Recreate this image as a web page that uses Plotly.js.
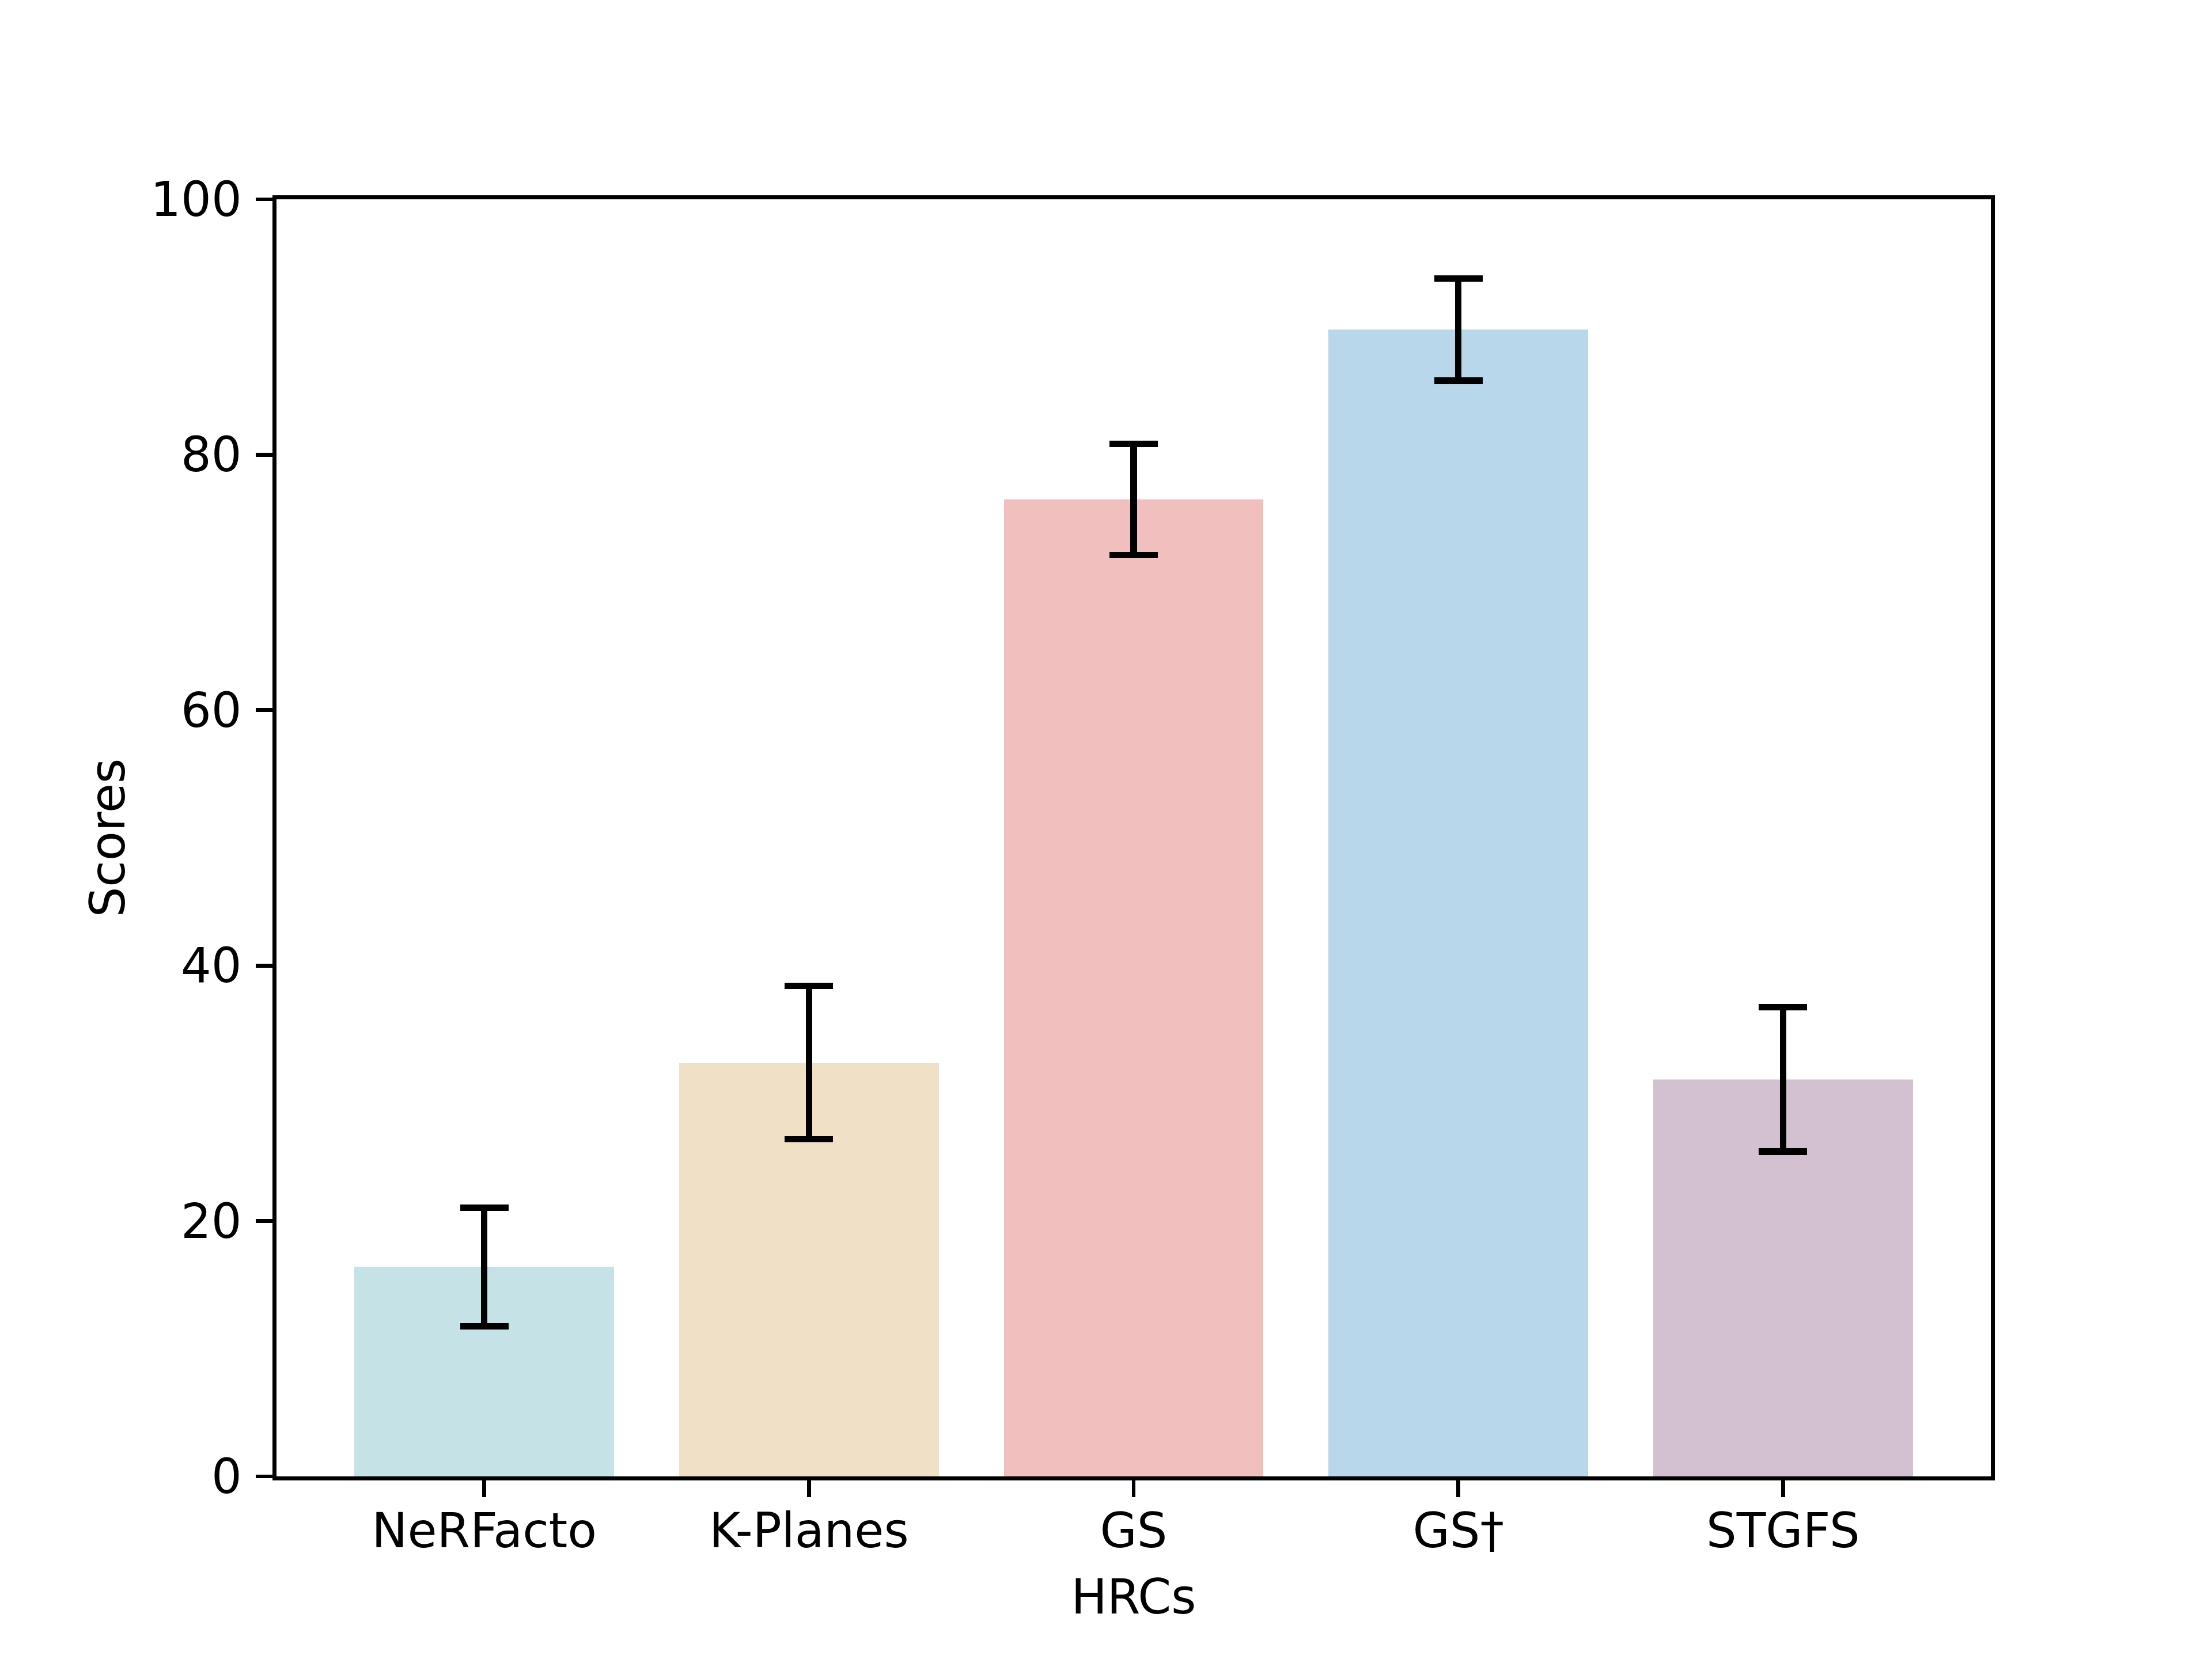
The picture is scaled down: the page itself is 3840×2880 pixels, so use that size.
<!DOCTYPE html>
<html>
<head>
<meta charset="utf-8">
<script src="https://cdn.plot.ly/plotly-3.0.1.min.js"></script>
<style>
html, body { margin: 0; padding: 0; background: #ffffff; }
#chart { width: 3840px; height: 2880px; }
</style>
</head>
<body>
<div id="chart"></div>
<script>
const categories = ["NeRFacto", "K-Planes", "GS", "GS\u2020", "STGFS"];
const scores = [16.4, 32.4, 76.5, 89.8, 31.1];
const errors = [4.65, 6.0, 4.35, 4.0, 5.65];
const barColors = ["#c5e2e7", "#f0e0c6", "#f2bfbf", "#b8d7ea", "#d3c1d1"];
const yTicks = [0, 20, 40, 60, 80, 100];

const FONT = "DejaVu Sans, sans-serif";

const trace = {
  type: "bar",
  x: categories.map((c, i) => i),
  y: scores,
  width: 0.8,
  marker: { color: barColors, line: { width: 0 } },
  error_y: {
    type: "data",
    array: errors,
    visible: true,
    color: "#000000",
    thickness: 11.5,
    width: 42
  },
  hoverinfo: "none",
  showlegend: false
};

const layout = {
  width: 3840,
  height: 2880,
  paper_bgcolor: "#ffffff",
  plot_bgcolor: "#ffffff",
  margin: { l: 480, r: 384, t: 346, b: 317, pad: 0 },
  font: { family: FONT, size: 83, color: "#000000" },
  showlegend: false,
  bargap: 0,
  xaxis: {
    range: [-0.64, 4.64],
    tickmode: "array",
    tickvals: categories.map((c, i) => i),
    ticktext: categories,
    ticks: "outside",
    ticklen: 29,
    tickwidth: 6.7,
    tickcolor: "#000000",
    showline: true,
    linecolor: "#000000",
    linewidth: 6.7,
    mirror: true,
    showgrid: false,
    zeroline: false,
    tickfont: { family: FONT, size: 83, color: "#000000" },
    ticklabelstandoff: -12,
    automargin: false,
    title: { text: "HRCs", font: { family: FONT, size: 83, color: "#000000" }, standoff: 40 }
  },
  yaxis: {
    range: [0, 100],
    tickmode: "array",
    tickvals: yTicks,
    ticktext: yTicks.map(String),
    ticks: "outside",
    ticklen: 29,
    tickwidth: 6.7,
    tickcolor: "#000000",
    showline: true,
    linecolor: "#000000",
    linewidth: 6.7,
    mirror: true,
    showgrid: false,
    zeroline: false,
    tickfont: { family: FONT, size: 83, color: "#000000" },
    ticklabelstandoff: 8,
    automargin: false,
    title: { text: "Scores", font: { family: FONT, size: 83, color: "#000000" }, standoff: 20 }
  }
};

Plotly.newPlot("chart", [trace], layout, { displayModeBar: false, staticPlot: true });
</script>
</body>
</html>
